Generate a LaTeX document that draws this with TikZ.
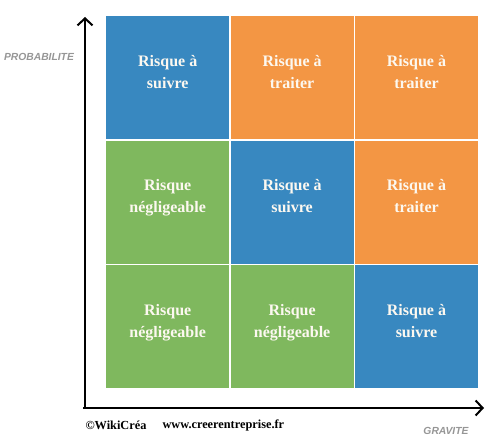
\documentclass[tikz,border=0pt]{standalone}
\usepackage{fontspec}
\setmainfont{Liberation Serif}
\newfontfamily\axisfont{Liberation Sans}
\usepackage{tikz}
\usetikzlibrary{arrows.meta,positioning}
\usepackage{xcolor}
\definecolor{riskblue}{RGB}{56,136,192}
\definecolor{riskorange}{RGB}{243,150,68}
\definecolor{riskgreen}{RGB}{127,184,94}
\definecolor{axisgrey}{RGB}{150,150,150}
\definecolor{cellink}{RGB}{252,248,240}

\begin{document}
\begin{tikzpicture}[x=1pt, y=-1pt, >={Straight Barb[length=7pt,width=15pt]}, node distance=1pt]
\tikzset{
  cell/.style={minimum width=123pt, minimum height=123pt, inner sep=0pt, align=center, text depth=12pt, text=cellink, font=\fontsize{16}{22}\selectfont\bfseries},
  suivre/.style={cell, fill=riskblue},
  traiter/.style={cell, fill=riskorange},
  neglig/.style={cell, fill=riskgreen},
  axis/.style={->, line width=2pt, black},
  axislabel/.style={font=\axisfont\fontsize{10.3}{12}\selectfont\bfseries\itshape, text=axisgrey},
  credit/.style={font=\fontsize{12.3}{14}\selectfont\bfseries, anchor=west}
}
\useasboundingbox (0,0) rectangle (500,444);
% grid of risks
\node[suivre, anchor=north west] (c13) at (106,16) {Risque à\\suivre};
\node[traiter, right=of c13] (c23) {Risque à\\traiter};
\node[traiter, right=of c23] (c33) {Risque à\\traiter};
\node[neglig, below=of c13] (c12) {Risque\\négligeable};
\node[suivre, right=of c12] (c22) {Risque à\\suivre};
\node[traiter, right=of c22] (c32) {Risque à\\traiter};
\node[neglig, below=of c12] (c11) {Risque\\négligeable};
\node[neglig, right=of c11] (c21) {Risque\\négligeable};
\node[suivre, right=of c21] (c31) {Risque à\\suivre};
% axes
\coordinate (origin) at (85,408);
\coordinate (ytop) at (85,17);
\coordinate (xend) at (484,408);
\draw[axis] ([xshift=-2pt]origin) -- (xend);
\draw[axis] ([yshift=1pt]origin) -- (ytop);
\node[axislabel] (prob) at (39,57) {PROBABILITE};
\node[axislabel] (grav) at (446,431) {GRAVITE};
\node[credit] (wiki) at (82,425) {©WikiCréa};
\node[credit] (site) at (159,425) {www.creerentreprise.fr};
\end{tikzpicture}
\end{document}
